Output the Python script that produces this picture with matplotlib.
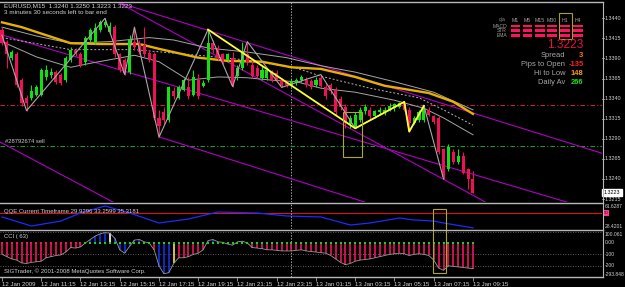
import matplotlib
matplotlib.use("Agg")
import matplotlib.pyplot as plt
from matplotlib.patches import Rectangle

# ---------------- data ----------------
symbol_line = "EURUSD,M15  1.3240 1.3250 1.3223 1.3223"
timer_line = "3 minutes 30 seconds left to bar end"
date_labels = ["12 Jan 2009", "12 Jan 11:15", "12 Jan 13:15", "12 Jan 15:15", "12 Jan 17:15",
               "12 Jan 19:15", "12 Jan 21:15", "12 Jan 23:15", "13 Jan 01:15", "13 Jan 03:15",
               "13 Jan 05:15", "13 Jan 07:15", "13 Jan 09:15"]
price_ticks = [1.3440, 1.3415, 1.3390, 1.3365, 1.3340, 1.3315, 1.3290, 1.3265, 1.3240, 1.3215]

opens = [1.3426, 1.3411, 1.3391, 1.3395, 1.3363, 1.3341, 1.3341, 1.3345, 1.3345, 1.3367,
         1.3370, 1.3373, 1.3370, 1.3363, 1.3388, 1.3401, 1.3395, 1.3385, 1.3413, 1.3411,
         1.3426, 1.3432, 1.3423, 1.3429, 1.3395, 1.3388, 1.3373, 1.3411, 1.3409, 1.3407,
         1.3397, 1.3395, 1.3316, 1.3323, 1.3314, 1.3350, 1.3341, 1.3351, 1.3355, 1.3345,
         1.3363, 1.3356, 1.3363, 1.3409, 1.3403, 1.3395, 1.3388, 1.3391, 1.3368, 1.3378,
         1.3395, 1.3382, 1.3378, 1.3366, 1.3366, 1.3372, 1.3372, 1.3363, 1.3361, 1.3357,
         1.3360, 1.3363, 1.3363, 1.3362, 1.3357, 1.3366, 1.3355, 1.3357, 1.3351, 1.3339,
         1.3330, 1.3308, 1.3305, 1.3314, 1.3324, 1.3326, 1.3319, 1.3323, 1.3323, 1.3326,
         1.3328, 1.3330, 1.3334, 1.3326, 1.3310, 1.3314, 1.3314, 1.3326, 1.3318, 1.3316,
         1.3277, 1.3252, 1.3273, 1.3261, 1.3268, 1.3252, 1.3240]
highs = [1.3429, 1.3413, 1.3401, 1.3398, 1.3366, 1.3344, 1.3357, 1.3357, 1.3378, 1.3382,
         1.3378, 1.3376, 1.3372, 1.3393, 1.3404, 1.3403, 1.3398, 1.3418, 1.3428, 1.3434,
         1.3438, 1.3440, 1.3435, 1.3432, 1.3397, 1.3391, 1.3419, 1.3429, 1.3413, 1.3429,
         1.3401, 1.3398, 1.3326, 1.3329, 1.3356, 1.3354, 1.3357, 1.3366, 1.3367, 1.3376,
         1.3371, 1.3363, 1.3426, 1.3413, 1.3407, 1.3397, 1.3397, 1.3398, 1.3382, 1.3411,
         1.3411, 1.3388, 1.3382, 1.3381, 1.3378, 1.3376, 1.3376, 1.3366, 1.3363, 1.3365,
         1.3366, 1.3370, 1.3367, 1.3365, 1.3367, 1.3370, 1.3358, 1.3360, 1.3354, 1.3343,
         1.3333, 1.3320, 1.3323, 1.3329, 1.3333, 1.3329, 1.3326, 1.3329, 1.3330, 1.3334,
         1.3335, 1.3336, 1.3336, 1.3329, 1.3319, 1.3326, 1.3331, 1.3329, 1.3320, 1.3319,
         1.3279, 1.3283, 1.3277, 1.3277, 1.3274, 1.3254, 1.3250]
lows = [1.3407, 1.3378, 1.3388, 1.3355, 1.3331, 1.3325, 1.3338, 1.3343, 1.3343, 1.3363,
        1.3366, 1.3358, 1.3357, 1.3361, 1.3386, 1.3393, 1.3380, 1.3382, 1.3411, 1.3408,
        1.3423, 1.3429, 1.3421, 1.3392, 1.3373, 1.3370, 1.3371, 1.3401, 1.3395, 1.3392,
        1.3386, 1.3314, 1.3292, 1.3308, 1.3311, 1.3340, 1.3339, 1.3349, 1.3340, 1.3343,
        1.3340, 1.3354, 1.3361, 1.3397, 1.3388, 1.3383, 1.3385, 1.3355, 1.3363, 1.3376,
        1.3382, 1.3366, 1.3366, 1.3363, 1.3363, 1.3361, 1.3361, 1.3354, 1.3355, 1.3356,
        1.3357, 1.3361, 1.3355, 1.3352, 1.3355, 1.3354, 1.3340, 1.3346, 1.3320, 1.3326,
        1.3304, 1.3304, 1.3303, 1.3311, 1.3321, 1.3315, 1.3316, 1.3320, 1.3320, 1.3324,
        1.3325, 1.3328, 1.3324, 1.3299, 1.3308, 1.3311, 1.3311, 1.3318, 1.3309, 1.3271,
        1.3240, 1.3250, 1.3258, 1.3258, 1.3246, 1.3227, 1.3223]
closes = [1.3409, 1.3395, 1.3398, 1.3357, 1.3335, 1.3334, 1.3349, 1.3355, 1.3376, 1.3376,
          1.3373, 1.3361, 1.3360, 1.3391, 1.3401, 1.3397, 1.3382, 1.3416, 1.3426, 1.3428,
          1.3435, 1.3435, 1.3430, 1.3395, 1.3376, 1.3372, 1.3413, 1.3404, 1.3398, 1.3395,
          1.3388, 1.3316, 1.3306, 1.3313, 1.3354, 1.3343, 1.3354, 1.3363, 1.3343, 1.3367,
          1.3343, 1.3360, 1.3409, 1.3401, 1.3391, 1.3386, 1.3395, 1.3357, 1.3378, 1.3398,
          1.3386, 1.3368, 1.3368, 1.3376, 1.3376, 1.3363, 1.3363, 1.3356, 1.3357, 1.3362,
          1.3363, 1.3367, 1.3357, 1.3355, 1.3363, 1.3356, 1.3343, 1.3349, 1.3323, 1.3330,
          1.3310, 1.3316, 1.3320, 1.3326, 1.3330, 1.3318, 1.3324, 1.3326, 1.3326, 1.3331,
          1.3333, 1.3335, 1.3326, 1.3310, 1.3316, 1.3323, 1.3329, 1.3320, 1.3311, 1.3273,
          1.3243, 1.3280, 1.3261, 1.3268, 1.3248, 1.3240, 1.3223]

# moving-average style lines (bar index, price)
gold_bars = [0, 4, 6, 10, 14, 20, 28, 32, 40, 46, 53, 59, 65, 72, 78, 87, 92, 96]
gold_vals = [1.3435, 1.3429, 1.3425, 1.3417, 1.3409, 1.3408, 1.3408, 1.3402, 1.3391, 1.3387,
             1.3386, 1.3379, 1.3377, 1.3367, 1.3356, 1.3347, 1.3336, 1.3321]
upper_bars = [0, 7, 14, 22, 30, 35, 42, 50, 58, 65, 72, 80, 88, 96]
upper_vals = [1.3429, 1.3418, 1.3409, 1.3411, 1.3416, 1.3413, 1.3403, 1.3398, 1.3391, 1.3381,
              1.3373, 1.3361, 1.3348, 1.3326]
mid_bars = [0, 14, 27, 40, 50, 60, 65, 75, 85, 90, 96]
mid_vals = [1.3416, 1.3401, 1.3401, 1.3394, 1.3388, 1.3378, 1.3368, 1.3353, 1.3341, 1.3326, 1.3307]
lower_bars = [0, 7, 14, 18, 27, 32, 38, 44, 50, 55, 60, 65, 72, 80, 86, 90, 96]
lower_vals = [1.3411, 1.3392, 1.3379, 1.3384, 1.3394, 1.3386, 1.3363, 1.3367, 1.3366, 1.3363,
              1.3361, 1.3353, 1.3348, 1.3338, 1.3328, 1.3316, 1.3295]

zz_bars = [0, 5, 21, 25, 27, 32, 42, 47, 50, 57, 65, 72, 82, 83, 86, 90]
zz_vals = [1.3419, 1.3325, 1.3440, 1.3370, 1.3429, 1.3292, 1.3426, 1.3355, 1.3411, 1.3354,
           1.3370, 1.3303, 1.3336, 1.3299, 1.3331, 1.3240]
yz_bars = [42, 72, 82, 83, 86]
yz_vals = [1.3426, 1.3303, 1.3336, 1.3299, 1.3331]

# trend lines: (bar0, price0, bar1, price1)
trend_lines = [(23.6, 1.3460, 122.3, 1.3272),
               (23.6, 1.3460, 98.9, 1.3210),
               (-0.4, 1.3420, 115.8, 1.3210),
               (-0.4, 1.3286, 23.0, 1.3210),
               (32.2, 1.3292, 75.6, 1.3208)]
red_level = 1.3332
order_level = 1.3281
order_label = "#28792674 sell"
box_bars = (69.5, 73.4)
box_prices = (1.3267, 1.3323)
separator_bar = 59

# dashboard
tf_labels = ["M1", "M5", "M15", "M30", "H1", "H4"]
sig_rows = ["MACD", "STR", "EMA"]
last_price = "1.3223"
stat_names = ["Spread", "Pips to Open", "Hi to Low", "Daily Av"]
stat_vals = ["3", "-135", "148", "266"]

# QQE
qqe_title = "QQE Current Timeframe 29.9296 33.2599 35.3181"
qqe_bars = [0, 6, 12, 16, 21, 26, 32, 38, 44, 52, 58, 65, 71, 75, 81, 84, 88, 90, 96]
qqe_vals = [44.4, 32.4, 39.0, 49.7, 59.0, 49.7, 36.4, 41.7, 51.0, 49.7, 45.7, 44.4, 33.7, 36.4,
            43.0, 40.4, 39.0, 36.4, 29.9]
qqe_min, qqe_max, qqe_level = 28.4201, 61.6287, 50.0

# CCI
cci_title = "CCI ( 63)"
cci_vals = [-100, -120, -140, -150, -175, -180, -170, -165, -160, -130,
            -120, -110, -105, -80, -40, -45, -35, 0, 30, 60,
            80, 90, 85, 40, -60, -90, -30, 25, 30, 10,
            0, -60, -200, -270, -260, -180, -130, -130, -120, -100,
            -90, -60, 20, 30, 10, 5, -10, -20, 10, 15,
            0, -40, -45, -50, -60, -60, -65, -70, -70, -70,
            -65, -60, -70, -75, -80, -85, -90, -110, -140, -170,
            -190, -180, -160, -150, -145, -140, -130, -120, -110, -100,
            -95, -90, -95, -110, -100, -95, -100, -110, -150, -220,
            -240, -200, -205, -210, -215, -220, -225]
cci_state = list("ppppppppppppppppp" + "bbbbbwbbbbbbbbp" + "bbbypppppp" + "bbbbbbbbb"
                 + "p" * 46)
cci_dots = list("r" * 17 + "g" * 80)
cci_min, cci_max = -293.848, 100.0611
footer = "SIGTrader, \u00a9 2001-2008 MetaQuotes Software Corp."

# ---------------- layout helpers ----------------
W, H = 625, 287
BAR_PX, X0_PX = 4.906, 2.0
P0, K = 1.34628, 0.0001245
FONT = "Liberation Sans"
TXT = "#D2D2D2"
BULL, BEAR = "#12E012", "#EE1155"
RX = 1.0045   # right-scale label x, in axes fraction

fig = plt.figure(figsize=(W / 100, H / 100), dpi=100)
fig.patch.set_facecolor("black")


def frect(x0, y0, x1, y1):
    return [x0 / W, 1 - y1 / H, (x1 - x0) / W, (y1 - y0) / H]


def bx(xpx):
    return (xpx - X0_PX) / BAR_PX


def px_of_bar(b):
    return X0_PX + b * BAR_PX


def ftext(x, y, s, **kw):
    kw.setdefault("family", FONT)
    kw.setdefault("color", TXT)
    kw.setdefault("va", "center")
    fig.text(x / W, 1 - y / H, s, **kw)


def style_axes(a):
    a.set_facecolor("black")
    for sp in a.spines.values():
        sp.set_visible(False)
    a.tick_params(left=False, right=False, top=False, bottom=False,
                  labelleft=False, labelbottom=False)


# ---------------- main panel ----------------
ax = fig.add_axes(frect(0, 2, 602, 202))
style_axes(ax)
ax.set_xlim(bx(0), bx(602))
ax.set_ylim(P0 - 202 * K, P0 - 2 * K)

n = len(closes)
xs = list(range(n))
ax.axvline(separator_bar, color="#A8A8A8", lw=0.7, ls=(0, (1.5, 1.5)), zorder=1)
ax.axhline(red_level, color="#C8203C", lw=0.8, ls=(0, (4, 2, 1, 2)), zorder=1)
ax.axhline(order_level, color="#1E9A1E", lw=0.8, ls=(0, (4, 2, 1, 2)), zorder=1)

for b0, p0, b1, p1 in trend_lines:
    ax.plot([b0, b1], [p0, p1], color="#B000C4", lw=0.8, zorder=2)

ax.plot(upper_bars, upper_vals, color="#A6A6A6", lw=0.7, zorder=3)
ax.plot(mid_bars, mid_vals, color="#B4B4B4", lw=0.7, ls=(0, (2, 2)), zorder=3)
ax.plot(lower_bars, lower_vals, color="#A6A6A6", lw=0.7, zorder=3)
ax.plot(gold_bars, gold_vals, color="#E8B000", lw=1.7, zorder=3)

for i in xs:
    c = BULL if closes[i] >= opens[i] else BEAR
    ax.vlines(i, lows[i], highs[i], color=c, lw=0.8, zorder=4)
    lo, hi = min(opens[i], closes[i]), max(opens[i], closes[i])
    ax.bar(i, max(hi - lo, 0.00008), bottom=lo, width=0.62, color=c, linewidth=0, zorder=5)

ax.plot(zz_bars, zz_vals, color="#A8A8A8", lw=0.8, zorder=6)
ax.plot(yz_bars, yz_vals, color="#FFFF30", lw=1.3, zorder=7)
ax.add_patch(Rectangle((box_bars[0], box_prices[0]), box_bars[1] - box_bars[0],
                       box_prices[1] - box_prices[0], fill=False, ec="#B0A820", lw=0.8, zorder=8))

ax.text(bx(5), order_level + 2.4 * K, order_label, fontsize=4.2, family=FONT,
        color="#C8C8C8", va="bottom", ha="left")

# right price scale
for p in price_ticks:
    ax.text(RX, p, f"{p:.4f}", transform=ax.get_yaxis_transform(), fontsize=3.9,
            family=FONT, color=TXT, va="center", ha="left", clip_on=False)
    ax.plot([1.0, 1.004], [p, p], transform=ax.get_yaxis_transform(), color="#A0A0A0",
            lw=0.6, clip_on=False)
ax.text(1.003, closes[-1], last_price, transform=ax.get_yaxis_transform(), fontsize=3.9,
        family=FONT, color="black", va="center", ha="left", clip_on=False,
        bbox=dict(boxstyle="square,pad=0.25", fc="white", ec="white"))

ftext(4, 6, symbol_line, fontsize=4.6)
ftext(4, 13, timer_line, fontsize=4.6)

# dashboard
col_x = [515.5, 527.5, 540, 552, 565, 578]
row_y = [26, 30.6, 35.2]
ftext(502, 20, "cja", fontsize=3.8, ha="center", color="#909090")
for cx, lab in zip(col_x, tf_labels):
    ftext(cx, 20, lab, fontsize=3.8, ha="center", color="#A0A0A0")
for ry, lab in zip(row_y, sig_rows):
    ftext(507, ry, lab, fontsize=3.6, ha="right", color="#A0A0A0")
    for cx in col_x:
        fig.patches.append(Rectangle(((cx - 4.7) / W, 1 - (ry + 1.4) / H), 9.4 / W, 2.8 / H,
                                     transform=fig.transFigure, fc="#FF1060", ec="none"))
fig.patches.append(Rectangle((558.5 / W, 1 - 38.5 / H), 13.5 / W, 25 / H, transform=fig.transFigure,
                             fill=False, ec="#A8A020", lw=0.8))
ftext(583.5, 45, last_price, fontsize=8.6, ha="right", color="#E8103C")
stat_y = [55.7, 64.2, 73.4, 82.4]
stat_colors = ["#FF7A10", "#FF2424", "#FF9A10", "#20E020"]
for sy, nm, v, vc in zip(stat_y, stat_names, stat_vals, stat_colors):
    ftext(565, sy, nm, fontsize=5.4, ha="right", color="#A8A8A8")
    ftext(583.5, sy, v, fontsize=5.4, ha="right", color=vc, weight="bold")

# ---------------- QQE panel ----------------
aq = fig.add_axes(frect(0, 204, 602, 229))
style_axes(aq)
aq.set_xlim(bx(0), bx(602))
aq.set_ylim(qqe_min, qqe_max)
aq.axhline(qqe_level, color="#E01010", lw=0.8)
aq.plot(qqe_bars, qqe_vals, color="#1A2CFF", lw=0.9)
aq.axvline(separator_bar, color="#A8A8A8", lw=0.7, ls=(0, (1.5, 1.5)))
ftext(4, 211.5, qqe_title, fontsize=4.3)
aq.text(RX, qqe_max, f"{qqe_max:.4f}", transform=aq.get_yaxis_transform(), fontsize=3.6,
        family=FONT, color=TXT, va="top", ha="left", clip_on=False)
aq.text(RX, qqe_min, f"{qqe_min:.4f}", transform=aq.get_yaxis_transform(), fontsize=3.6,
        family=FONT, color=TXT, va="bottom", ha="left", clip_on=False)
aq.text(1.003, qqe_level, "50", transform=aq.get_yaxis_transform(), fontsize=3.2,
        family=FONT, color="#600020", va="center", ha="left", clip_on=False,
        bbox=dict(boxstyle="square,pad=0.2", fc="#FF3C8C", ec="none"))

# ---------------- CCI panel ----------------
ac = fig.add_axes(frect(0, 231.5, 602, 276.5))
style_axes(ac)
ac.set_xlim(bx(0), bx(602))
ac.set_ylim(cci_min, cci_max)
for lv in (100, -100, -200):
    ac.axhline(lv, color="#7A7A7A", lw=0.6, ls=(0, (1, 2)))
ac.axvline(separator_bar, color="#A8A8A8", lw=0.7, ls=(0, (1.5, 1.5)))
state_col = {"p": "#F0145F", "b": "#1630E8", "w": "#FFFFFF", "y": "#FFE040"}
for i, v in enumerate(cci_vals):
    ac.vlines(i, 0, v, color=state_col[cci_state[i]], lw=1.2, zorder=3)
ac.plot(xs, cci_vals, color="#9A9A9A", lw=0.6, zorder=4)
dot_col = {"r": "#F0145F", "g": "#18D018"}
for i, d in enumerate(cci_dots):
    ac.plot(i, 0, marker="s", ms=1.7, mew=0, color=dot_col[d], zorder=5)
ftext(4, 236.5, cci_title, fontsize=4.3)
ftext(4, 271, footer, fontsize=4.3)
for val, lab, va in [(cci_max, "100.061", "top"), (0, "0.00", "center"), (-100, "-100", "center"),
                     (-200, "-200", "center"), (cci_min, "-293.848", "bottom")]:
    ac.text(RX, val, lab, transform=ac.get_yaxis_transform(), fontsize=3.6, family=FONT,
            color=TXT, va=va, ha="left", clip_on=False)

# date axis
ac.set_xticks(list(range(0, n, 8)))
ac.set_xticklabels(date_labels, fontsize=4.4, family=FONT, color=TXT)
ac.tick_params(bottom=True, labelbottom=True, length=3, width=0.6, color="#A0A0A0", pad=1.2)
for t in ac.get_xticklabels():
    t.set_ha("left")

# lower yellow box spanning QQE and CCI panels
bx0, bx1 = px_of_bar(87.85), px_of_bar(90.5)
fig.patches.append(Rectangle((bx0 / W, 1 - 273 / H), (bx1 - bx0) / W, 64 / H,
                             transform=fig.transFigure, fill=False, ec="#B0A820", lw=0.8))

# frame lines
for y in (1.5, 203, 230, 276.8):
    fig.add_artist(plt.Line2D([0, 602.5 / W], [1 - y / H] * 2, color="#B8B8B8", lw=1.0))
fig.add_artist(plt.Line2D([602.5 / W] * 2, [1 - 1.5 / H, 1 - 276.8 / H], color="#B8B8B8", lw=0.8))

fig.savefig("out.png", dpi=100, facecolor="black")
